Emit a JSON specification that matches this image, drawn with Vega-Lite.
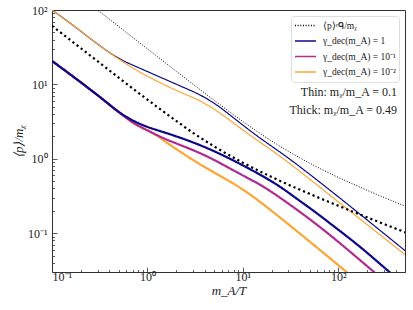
{
  "$schema": "https://vega.github.io/schema/vega-lite/v6.json",
  "width": 353,
  "height": 262,
  "autosize": {"type": "none"},
  "padding": {"left": 52, "top": 10, "right": 8, "bottom": 38},
  "background": "white",
  "config": {
    "view": {"stroke": "#333333", "strokeWidth": 1},
    "font": "Liberation Serif",
    "axis": {
      "grid": false, "domain": false,
      "labelFont": "Liberation Serif", "labelFontSize": 12, "labelColor": "#222222",
      "tickColor": "#333333", "tickWidth": 0.8,
      "titleFont": "Liberation Serif", "titleFontSize": 13, "titleFontWeight": "normal", "titleColor": "#222222", "titleFontStyle": "italic"
    },
    "legend": {
      "orient": "top-right", "offset": 6, "fillColor": "white", "strokeColor": "#dddddd", "cornerRadius": 3,
      "padding": 3, "labelFont": "Liberation Serif", "labelFontSize": 9.5, "labelColor": "#222222",
      "symbolType": "stroke", "symbolSize": 440, "symbolStrokeWidth": 1.5, "rowPadding": 2.5, "clipHeight": 13, "labelOffset": 6
    }
  },
  "datasets": {
    "notes": [
      {"t": "Thin: mᵪ/m_A = 0.1", "x": 412, "y": 7.9},
      {"t": "Thick: mᵪ/m_A = 0.49", "x": 412, "y": 4.52}
    ]
  },
  "data": {"values": [
    {"k":"eq","w":"thin","x":0.25,"y":120},{"k":"eq","w":"thin","x":0.3,"y":100},{"k":"eq","w":"thin","x":0.5,"y":60.0},{"k":"eq","w":"thin","x":0.7,"y":42.9},{"k":"eq","w":"thin","x":1,"y":30.0},{"k":"eq","w":"thin","x":1.5,"y":20.03},{"k":"eq","w":"thin","x":2,"y":15.05},{"k":"eq","w":"thin","x":3,"y":10.07},{"k":"eq","w":"thin","x":5,"y":6.105},{"k":"eq","w":"thin","x":7,"y":4.42},{"k":"eq","w":"thin","x":10,"y":3.17},{"k":"eq","w":"thin","x":15,"y":2.209},{"k":"eq","w":"thin","x":20,"y":1.733},{"k":"eq","w":"thin","x":30,"y":1.259},{"k":"eq","w":"thin","x":50,"y":0.873},{"k":"eq","w":"thin","x":70,"y":0.700},{"k":"eq","w":"thin","x":100,"y":0.5616},{"k":"eq","w":"thin","x":200,"y":0.377},{"k":"eq","w":"thin","x":300,"y":0.3023},{"k":"eq","w":"thin","x":520,"y":0.2263},
    {"k":"eq","w":"thick","x":0.1,"y":61.3},{"k":"eq","w":"thick","x":0.2,"y":30.7},{"k":"eq","w":"thick","x":0.3,"y":20.5},{"k":"eq","w":"thick","x":0.5,"y":12.3},{"k":"eq","w":"thick","x":1,"y":6.23},{"k":"eq","w":"thick","x":2,"y":3.234},{"k":"eq","w":"thick","x":3,"y":2.233},{"k":"eq","w":"thick","x":5,"y":1.467},{"k":"eq","w":"thick","x":10,"y":0.8855},{"k":"eq","w":"thick","x":20,"y":0.5683},{"k":"eq","w":"thick","x":50,"y":0.3373},{"k":"eq","w":"thick","x":100,"y":0.2332},{"k":"eq","w":"thick","x":200,"y":0.1631},{"k":"eq","w":"thick","x":520,"y":0.1007},
    {"k":"g1","w":"thin","x":0.1,"y":100},{"k":"g1","w":"thin","x":0.1685,"y":61.9},{"k":"g1","w":"thin","x":0.2732,"y":37.77},{"k":"g1","w":"thin","x":0.4809,"y":22.47},{"k":"g1","w":"thin","x":0.7484,"y":17.5},{"k":"g1","w":"thin","x":1.0752,"y":14.27},{"k":"g1","w":"thin","x":1.743,"y":10.87},{"k":"g1","w":"thin","x":2.505,"y":8.87},{"k":"g1","w":"thin","x":3.598,"y":7.23},{"k":"g1","w":"thin","x":5.17,"y":5.47},{"k":"g1","w":"thin","x":6.862,"y":4.144},{"k":"g1","w":"thin","x":12.05,"y":2.34},{"k":"g1","w":"thin","x":18.03,"y":1.614},{"k":"g1","w":"thin","x":26.93,"y":1.132},{"k":"g1","w":"thin","x":40.33,"y":0.769},{"k":"g1","w":"thin","x":83.24,"y":0.372},{"k":"g1","w":"thin","x":184.8,"y":0.164},{"k":"g1","w":"thin","x":520,"y":0.0558},
    {"k":"g001","w":"thin","x":0.1,"y":100},{"k":"g001","w":"thin","x":0.1685,"y":61.9},{"k":"g001","w":"thin","x":0.2732,"y":37.77},{"k":"g001","w":"thin","x":0.4809,"y":22.47},{"k":"g001","w":"thin","x":0.7484,"y":15.65},{"k":"g001","w":"thin","x":1.0752,"y":12.22},{"k":"g001","w":"thin","x":1.743,"y":8.97},{"k":"g001","w":"thin","x":2.505,"y":7.34},{"k":"g001","w":"thin","x":3.598,"y":6.004},{"k":"g001","w":"thin","x":5.17,"y":4.548},{"k":"g001","w":"thin","x":6.862,"y":3.497},{"k":"g001","w":"thin","x":12.05,"y":2.036},{"k":"g001","w":"thin","x":18.03,"y":1.427},{"k":"g001","w":"thin","x":26.93,"y":1.0},{"k":"g001","w":"thin","x":100,"y":0.2637},{"k":"g001","w":"thin","x":520,"y":0.0494},
    {"k":"g1","w":"thick","x":0.1,"y":20.67},{"k":"g1","w":"thick","x":0.1982,"y":10.8},{"k":"g1","w":"thick","x":0.3479,"y":6.19},{"k":"g1","w":"thick","x":0.4396,"y":4.81},{"k":"g1","w":"thick","x":0.5207,"y":4.106},{"k":"g1","w":"thick","x":0.7181,"y":3.168},{"k":"g1","w":"thick","x":1.0752,"y":2.567},{"k":"g1","w":"thick","x":1.609,"y":2.213},{"k":"g1","w":"thick","x":3.598,"y":1.541},{"k":"g1","w":"thick","x":7.43,"y":1.0},{"k":"g1","w":"thick","x":15.34,"y":0.61},{"k":"g1","w":"thick","x":24.86,"y":0.4209},{"k":"g1","w":"thick","x":40.33,"y":0.2648},{"k":"g1","w":"thick","x":55.2,"y":0.2004},{"k":"g1","w":"thick","x":105.97,"y":0.1047},{"k":"g1","w":"thick","x":171.9,"y":0.065},{"k":"g1","w":"thick","x":338,"y":0.0304},{"k":"g1","w":"thick","x":420,"y":0.0242},
    {"k":"g01","w":"thick","x":0.1,"y":20.67},{"k":"g01","w":"thick","x":0.1982,"y":10.8},{"k":"g01","w":"thick","x":0.3479,"y":6.19},{"k":"g01","w":"thick","x":0.4396,"y":4.81},{"k":"g01","w":"thick","x":0.5207,"y":4.08},{"k":"g01","w":"thick","x":0.7181,"y":2.95},{"k":"g01","w":"thick","x":1.0752,"y":2.304},{"k":"g01","w":"thick","x":1.609,"y":1.771},{"k":"g01","w":"thick","x":3.598,"y":1.215},{"k":"g01","w":"thick","x":7.43,"y":0.734},{"k":"g01","w":"thick","x":12.05,"y":0.5226},{"k":"g01","w":"thick","x":16.61,"y":0.4248},{"k":"g01","w":"thick","x":37.23,"y":0.2067},{"k":"g01","w":"thick","x":83.24,"y":0.094},{"k":"g01","w":"thick","x":208.4,"y":0.0344},{"k":"g01","w":"thick","x":300,"y":0.0232},
    {"k":"g001","w":"thick","x":0.1,"y":20.67},{"k":"g001","w":"thick","x":0.1982,"y":10.8},{"k":"g001","w":"thick","x":0.3479,"y":6.19},{"k":"g001","w":"thick","x":0.4396,"y":4.81},{"k":"g001","w":"thick","x":0.5207,"y":4.08},{"k":"g001","w":"thick","x":0.7181,"y":2.95},{"k":"g001","w":"thick","x":1.0752,"y":2.304},{"k":"g001","w":"thick","x":1.264,"y":2.05},{"k":"g001","w":"thick","x":1.609,"y":1.62},{"k":"g001","w":"thick","x":3.598,"y":0.818},{"k":"g001","w":"thick","x":7.43,"y":0.4958},{"k":"g001","w":"thick","x":12.05,"y":0.3287},{"k":"g001","w":"thick","x":16.61,"y":0.2413},{"k":"g001","w":"thick","x":37.23,"y":0.1057},{"k":"g001","w":"thick","x":119.6,"y":0.0307},{"k":"g001","w":"thick","x":150,"y":0.0241}
  ]},
  "encoding": {
    "x": {
      "field": "x", "type": "quantitative",
      "scale": {"type": "log", "domain": [0.1, 500]},
      "axis": {
        "title": "m_A/T",
        "values": [0.1,0.2,0.3,0.4,0.5,0.6,0.7,0.8,0.9,1,2,3,4,5,6,7,8,9,10,20,30,40,50,60,70,80,90,100,200,300,400,500],
        "labelExpr": "datum.value == 0.1 ? '10⁻¹' : datum.value == 1 ? '10⁰' : datum.value == 10 ? '10¹' : datum.value == 100 ? '10²' : ''",
        "tickSize": {"condition": {"test": "datum.value == 0.1 || datum.value == 1 || datum.value == 10 || datum.value == 100", "value": -5}, "value": -2.5},
        "labelPadding": 4,
        "titlePadding": 2
      }
    },
    "y": {
      "field": "y", "type": "quantitative",
      "scale": {"type": "log", "domain": [0.03, 100]},
      "axis": {
        "title": "⟨p⟩/mᵪ",
        "values": [0.03,0.04,0.05,0.06,0.07,0.08,0.09,0.1,0.2,0.3,0.4,0.5,0.6,0.7,0.8,0.9,1,2,3,4,5,6,7,8,9,10,20,30,40,50,60,70,80,90,100],
        "labelExpr": "datum.value == 0.1 ? '10⁻¹' : datum.value == 1 ? '10⁰' : datum.value == 10 ? '10¹' : datum.value == 100 ? '10²' : ''",
        "tickSize": {"condition": {"test": "datum.value == 0.1 || datum.value == 1 || datum.value == 10 || datum.value == 100", "value": -5}, "value": -2.5},
        "labelPadding": 10,
        "titlePadding": 2
      }
    }
  },
  "layer": [
    {
      "encoding": {
        "color": {
          "field": "k", "type": "nominal",
          "scale": {"domain": ["eq","g1","g01","g001"], "range": ["#000000","#0d0887","#b12a90","#fca636"]},
          "legend": {"title": null, "labelExpr": "datum.value == 'eq' ? '⟨p⟩ᵉᑫ/mᵪ' : datum.value == 'g1' ? 'γ_dec(m_A) = 1' : datum.value == 'g01' ? 'γ_dec(m_A) = 10⁻¹' : 'γ_dec(m_A) = 10⁻²'"}
        },
        "strokeDash": {
          "field": "k", "type": "nominal",
          "scale": {"domain": ["eq","g1","g01","g001"], "range": [[1,1.65],[1,0],[1,0],[1,0]]},
          "legend": {"title": null, "labelExpr": "datum.value == 'eq' ? '⟨p⟩ᵉᑫ/mᵪ' : datum.value == 'g1' ? 'γ_dec(m_A) = 1' : datum.value == 'g01' ? 'γ_dec(m_A) = 10⁻¹' : 'γ_dec(m_A) = 10⁻²'"}
        }
      },
      "layer": [
        {"transform": [{"filter": "datum.k == 'g001' && datum.w == 'thick'"}], "mark": {"type": "line", "strokeWidth": 2.2, "clip": true, "interpolate": "basis"}},
        {"transform": [{"filter": "datum.k == 'g01' && datum.w == 'thick'"}], "mark": {"type": "line", "strokeWidth": 2.2, "clip": true, "interpolate": "basis"}},
        {"transform": [{"filter": "datum.k == 'g1' && datum.w == 'thick'"}], "mark": {"type": "line", "strokeWidth": 2.2, "clip": true, "interpolate": "basis"}},
        {"transform": [{"filter": "datum.k == 'g1' && datum.w == 'thin'"}], "mark": {"type": "line", "strokeWidth": 1.2, "clip": true, "interpolate": "basis"}},
        {"transform": [{"filter": "datum.k == 'g001' && datum.w == 'thin'"}], "mark": {"type": "line", "strokeWidth": 1.2, "clip": true, "interpolate": "basis"}},
        {"transform": [{"filter": "datum.k == 'eq' && datum.w == 'thick'"}], "mark": {"type": "line", "strokeWidth": 2.2, "clip": true, "interpolate": "monotone"}, "encoding": {"strokeDash": {"value": [2.2, 3]}}},
        {"transform": [{"filter": "datum.k == 'eq' && datum.w == 'thin'"}], "mark": {"type": "line", "strokeWidth": 1, "clip": true, "interpolate": "monotone"}}
      ]
    },
    {
      "data": {"name": "notes"},
      "mark": {"type": "text", "align": "right", "baseline": "middle", "font": "Liberation Serif", "fontSize": 12, "fill": "#222222"},
      "encoding": {"text": {"field": "t", "type": "nominal"}}
    }
  ]
}
